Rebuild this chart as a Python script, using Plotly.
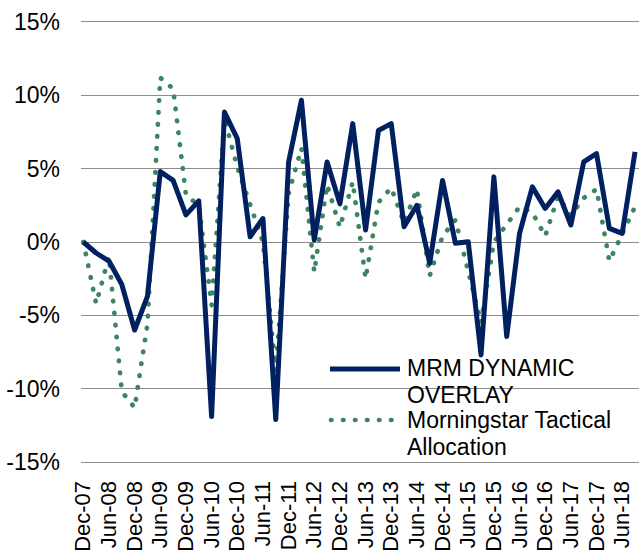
import plotly.graph_objects as go

# ---- data ----
quarters = [
    "Dec-07", "Mar-08", "Jun-08", "Sep-08", "Dec-08", "Mar-09", "Jun-09", "Sep-09",
    "Dec-09", "Mar-10", "Jun-10", "Sep-10", "Dec-10", "Mar-11", "Jun-11", "Sep-11",
    "Dec-11", "Mar-12", "Jun-12", "Sep-12", "Dec-12", "Mar-13", "Jun-13", "Sep-13",
    "Dec-13", "Mar-14", "Jun-14", "Sep-14", "Dec-14", "Mar-15", "Jun-15", "Sep-15",
    "Dec-15", "Mar-16", "Jun-16", "Sep-16", "Dec-16", "Mar-17", "Jun-17", "Sep-17",
    "Dec-17", "Mar-18", "Jun-18", "Sep-18",
]

mrm_dynamic_overlay = [
    0.0, -0.75, -1.3, -2.9, -6.0, -3.7, 4.8, 4.2,
    1.85, 2.8, -11.9, 8.86, 7.05, 0.36, 1.6, -12.1,
    5.46, 9.66, 0.14, 5.46, 2.6, 8.07, 0.82, 7.6,
    8.07, 1.04, 2.5, -1.45, 4.2, -0.09, 0.02, -7.7,
    4.44, -6.44, 0.59, 3.76, 2.29, 3.42, 1.16, 5.46,
    6.03, 0.93, 0.59, 6.14,
]

morningstar_tactical = [
    0.0, -4.2, -1.0, -10.2, -11.3, -5.6, 11.2, 10.45,
    3.2, 2.5, -4.3, 8.4, 5.1, 2.6, 0.0, -8.8,
    3.3, 6.4, -2.05, 3.9, 1.0, 4.1, -2.5, 2.7,
    3.7, 1.3, 3.6, -2.3, 0.4, 1.5, -1.9, -5.5,
    0.0, 1.2, 2.4, 2.0, 0.4, 3.1, 1.8, 3.0,
    3.6, -1.3, 0.6, 2.4,
]

x_tick_labels = quarters[::2]
y_tick_values = [-15, -10, -5, 0, 5, 10, 15]
y_tick_labels = ["-15%", "-10%", "-5%", "0%", "5%", "10%", "15%"]

series_names = ["MRM DYNAMIC OVERLAY", "Morningstar Tactical Allocation"]
legend_lines = [["MRM DYNAMIC", "OVERLAY"], ["Morningstar Tactical", "Allocation"]]

NAVY = "#002060"
GREEN = "#3b8562"
GRID = "#8c8c8c"
FONT = "Liberation Sans, Arial, sans-serif"
DOT_DASH = "0.5px,11.5px"

W, H = 639, 552
L, R, T, B = 81, 0, 22, 90

fig = go.Figure()
fig.add_trace(go.Scatter(
    x=quarters, y=morningstar_tactical, mode="lines", name=series_names[1],
    line=dict(color=GREEN, width=4.7, dash=DOT_DASH), showlegend=False,
))
fig.add_trace(go.Scatter(
    x=quarters, y=mrm_dynamic_overlay, mode="lines", name=series_names[0],
    line=dict(color=NAVY, width=5), showlegend=False,
))

pw, ph = W - L - R, H - T - B
def px(xp):
    return (xp - L) / pw
def py(yp):
    return (H - B - yp) / ph

shapes = [
    dict(type="line", xref="paper", yref="paper", x0=px(330), x1=px(400), y0=py(369), y1=py(369),
         line=dict(color=NAVY, width=5)),
    dict(type="line", xref="paper", yref="paper", x0=px(331), x1=px(400), y0=py(420), y1=py(420),
         line=dict(color=GREEN, width=4.7, dash=DOT_DASH)),
]
annotations = []
for ys, lines in zip([(368, 395), (420, 447)], legend_lines):
    for yc, txt in zip(ys, lines):
        annotations.append(dict(
            xref="paper", yref="paper", x=px(405), y=py(yc), xanchor="left", yanchor="middle",
            text=txt, showarrow=False, font=dict(family=FONT, size=23, color="#000000"),
        ))

fig.update_layout(
    width=W, height=H,
    margin=dict(l=L, r=R, t=T, b=B, pad=0, autoexpand=False),
    paper_bgcolor="white", plot_bgcolor="white",
    font=dict(family=FONT, color="#000000"),
    shapes=shapes, annotations=annotations,
    showlegend=False,
)
fig.update_xaxes(
    type="category", range=[-0.18, 43.31], automargin=False,
    tickmode="array", tickvals=x_tick_labels, ticktext=x_tick_labels,
    tickangle=-90, tickfont=dict(family=FONT, size=22, color="#000000"),
    showgrid=False, zeroline=False, ticks="",
    showline=True, linecolor=GRID, linewidth=1.3, mirror=True,
    ticklabelstandoff=9,
)
fig.update_yaxes(
    range=[-15, 15], automargin=False,
    tickmode="array", tickvals=y_tick_values, ticktext=y_tick_labels,
    tickfont=dict(family=FONT, size=23, color="#000000"),
    showgrid=True, gridcolor=GRID, gridwidth=1.3, zeroline=False, showline=False, ticks="",
    ticklabelstandoff=20,
)

post = """
(function(){
  document.documentElement.style.margin = '0';
  document.body.style.margin = '0';
  document.body.style.padding = '0';
  var gd = document.getElementById('{plot_id}');
  function fix(){
    gd.querySelectorAll('path').forEach(function(p){
      var d = (p.style.strokeDasharray || '') + (p.getAttribute('stroke-dasharray') || '');
      if (d.indexOf('11.5') !== -1) { p.style.strokeLinecap = 'round'; }
      p.style.strokeLinejoin = 'round';
    });
  }
  fix();
  gd.on && gd.on('plotly_afterplot', fix);
})();
"""
fig.write_html("out.html", post_script=post, config={"displayModeBar": False})
